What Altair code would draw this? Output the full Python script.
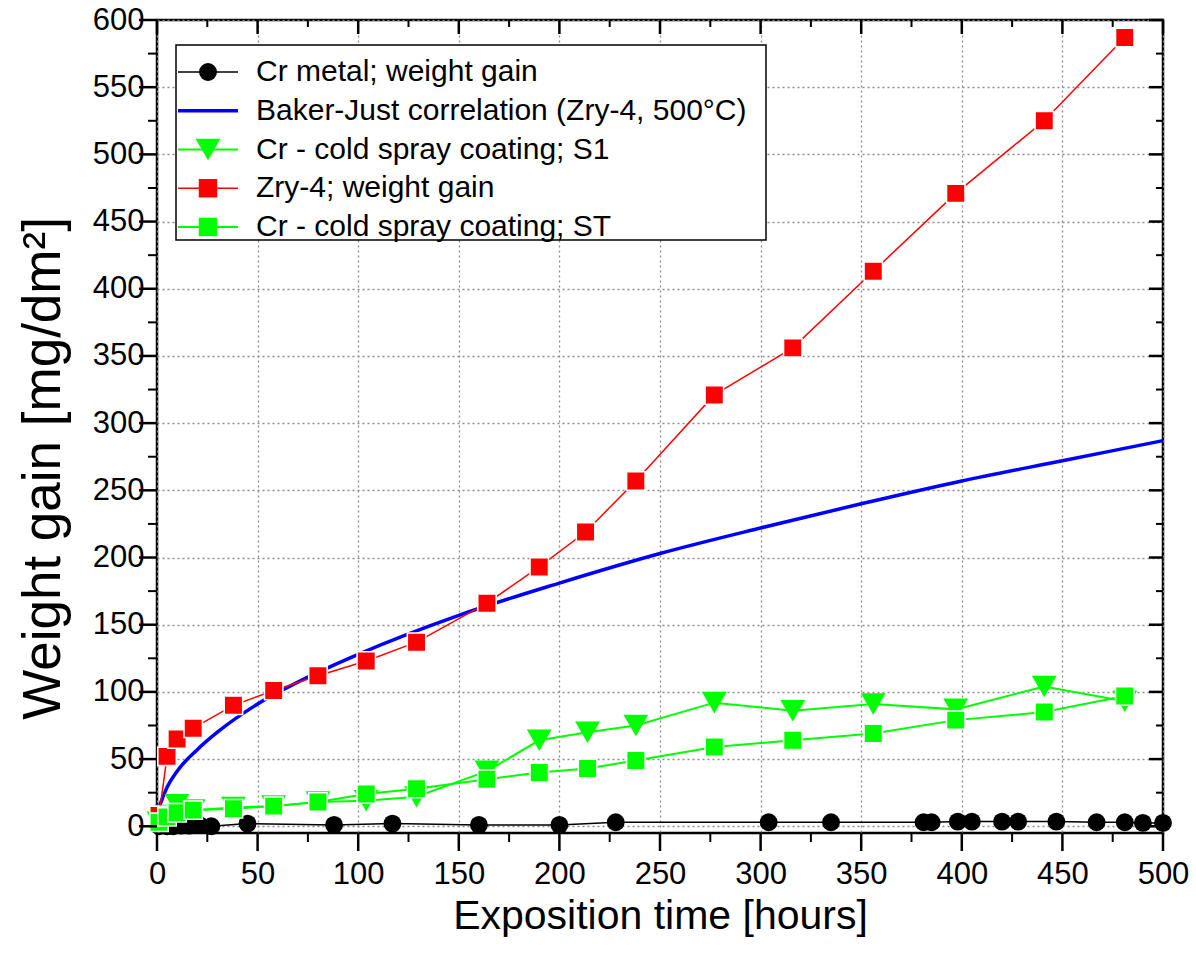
import altair as alt
import pandas as pd

# ---------------- data ----------------
cr_t = [1, 5, 8, 12, 16, 21, 27, 45, 88, 117, 160, 200, 228, 304, 335, 381, 385, 398, 405, 420, 428, 447, 467, 481, 490, 500]
cr_w = [0, 0, 0, 0.5, 0.5, 1, 0, 2, 1, 2, 1, 1, 3, 3, 3, 3, 3, 3.5, 3.5, 3.5, 3.5, 3.5, 3, 3, 2.5, 2.5]

bj_t = [0, 1, 2, 5, 10, 20, 30, 50, 75, 100, 150, 200, 250, 300, 350, 400, 450, 500]
bj_w = [0, 13, 18, 29, 41, 57, 70, 91, 111, 128, 157, 181, 203, 222, 240, 257, 272, 287]

s1_t = [1, 5, 10, 18, 38, 58, 80, 104, 129, 164, 190, 214, 238, 277, 316, 356, 397, 441, 481]
s1_w = [3, 8, 16, 12, 14, 15, 18, 19, 22, 41, 64, 70, 75, 92, 86, 91, 87, 104, 93]

zry_t = [1, 5, 10, 18, 38, 58, 80, 104, 129, 164, 190, 213, 238, 277, 316, 356, 397, 441, 481]
zry_w = [8, 52, 65, 73, 90, 101, 112, 123, 137, 166, 193, 219, 257, 321, 356, 413, 471, 525, 587]

st_t = [1, 5, 10, 18, 38, 58, 80, 104, 129, 164, 190, 214, 238, 277, 316, 356, 397, 441, 481]
st_w = [3, 7, 10, 12, 13, 15, 18, 24, 28, 35, 40, 43, 49, 59, 64, 69, 79, 85, 97]

legend_labels = [
    "Cr metal; weight gain",
    "Baker-Just correlation (Zry-4, 500°C)",
    "Cr - cold spray coating; S1",
    "Zry-4; weight gain",
    "Cr - cold spray coating; ST",
]
legend_colors = ["black", "#0000ff", "#00ff00", "#ff0000", "#00ff00"]
legend_shapes = ["circle", None, "triangle-down", "square", "square"]
legend_sizes = [320, 0, 620, 340, 340]
legend_widths = [1.5, 3.5, 2, 1.5, 2]

x_major = list(range(0, 501, 50))
x_minor = list(range(25, 500, 50))
y_major = list(range(0, 601, 50))
y_minor = list(range(25, 600, 50))

W, H = 1006, 813
FONT = "Liberation Sans"

xs = alt.Scale(domain=[0, 500], nice=False, zero=False)
ys = alt.Scale(domain=[-5, 600], nice=False, zero=False)

AX = alt.Axis(
    values=x_major, title="Exposition time [hours]", grid=True,
    gridDash=[2, 3], gridColor="#8c8c8c", gridWidth=1.3,
    ticks=False, domain=False, labelFont=FONT, labelFontSize=31,
    labelColor="black", labelPadding=26, titleFont=FONT,
    titleFontSize=41, titleFontWeight="normal", titleColor="black",
    titleBaseline="alphabetic", titleY=95, labelFlush=False,
)
AY = alt.Axis(
    values=y_major, title="Weight gain [mg/dm²]", grid=True,
    gridDash=[2, 3], gridColor="#8c8c8c", gridWidth=1.3,
    ticks=False, domain=False, labelFont=FONT, labelFontSize=31,
    labelColor="black", labelPadding=13, titleFont=FONT,
    titleFontSize=53, titleFontWeight="normal", titleColor="black",
    titleBaseline="alphabetic", titleX=-98, titleY=448, titleAngle=-90,
    labelFlush=False,
)
XE = alt.X("t:Q", scale=xs, axis=AX)
YE = alt.Y("w:Q", scale=ys, axis=AY)


def series(t, w, color, lw, shape=None, size=0, halo=False, interp="linear"):
    df = pd.DataFrame({"t": t, "w": w})
    base = alt.Chart(df).encode(x=XE, y=YE)
    layers = [base.mark_line(color=color, strokeWidth=lw, interpolate=interp)]
    if shape:
        kw = dict(shape=shape, size=size, filled=True, color=color, opacity=1)
        if halo:
            kw.update(stroke="white", strokeWidth=1.5)
        layers.append(base.mark_point(**kw))
    return layers


def tick_rules(vals, axis, length, width):
    field = "t" if axis == "x" else "w"
    c = alt.Chart(pd.DataFrame({field: vals})).mark_rule(color="black", strokeWidth=width)
    if axis == "x":
        return [
            c.encode(x=XE, y=alt.value(H), y2=alt.value(H + length)),
            c.encode(x=XE, y=alt.value(0), y2=alt.value(length * 0.78)),
        ]
    return [
        c.encode(y=YE, x=alt.value(0), x2=alt.value(-length)),
        c.encode(y=YE, x=alt.value(W), x2=alt.value(W - length * 0.78)),
    ]


ticks = (
    tick_rules(x_major, "x", 18, 2.5)
    + tick_rules(x_minor, "x", 9, 2)
    + tick_rules(y_major, "y", 18, 2.5)
    + tick_rules(y_minor, "y", 9, 2)
)

data_layers = (
    series(bj_t, bj_w, "#0000ff", 3.5, interp="monotone")
    + series(cr_t, cr_w, "black", 1.5, "circle", 320)
    + series(s1_t, s1_w, "#00ff00", 2, "triangle-down", 620)
    + series(zry_t, zry_w, "#ff0000", 1.5, "square", 340, halo=True)
    + series(st_t, st_w, "#00ff00", 2, "square", 340, halo=True)
    + ticks
)
data_chart = alt.layer(*data_layers)

# ---------------- legend ----------------
leg = pd.DataFrame({
    "row": list(range(5)),
    "label": legend_labels,
    "color": legend_colors,
    "shape": [s if s else "circle" for s in legend_shapes],
    "size": legend_sizes,
    "sw": legend_widths,
})
leg_markers = leg[leg["size"] > 0]
ry = alt.Y("row:O", scale=alt.Scale(type="point", domain=list(range(5)), range=[52, 207], padding=0), axis=None)

leg_box = alt.Chart(pd.DataFrame({"a": [0]})).mark_rect(
    fill="white", stroke="black", strokeWidth=1.5
).encode(x=alt.value(19), x2=alt.value(609), y=alt.value(25), y2=alt.value(220))

leg_lines = alt.Chart(leg).mark_rule().encode(
    x=alt.value(21), x2=alt.value(81), y=ry,
    color=alt.Color("color:N", scale=None),
    strokeWidth=alt.StrokeWidth("sw:Q", scale=None),
)
leg_pts = alt.Chart(leg_markers).mark_point(filled=True, opacity=1).encode(
    x=alt.value(51), y=ry,
    color=alt.Color("color:N", scale=None),
    shape=alt.Shape("shape:N", scale=None),
    size=alt.Size("size:Q", scale=None),
)
leg_text = alt.Chart(leg).mark_text(
    align="left", baseline="middle", font=FONT, fontSize=30, color="black"
).encode(x=alt.value(99), y=ry, text="label:N")

legend_chart = alt.layer(leg_box, leg_lines, leg_pts, leg_text)

chart = (
    alt.layer(data_chart, legend_chart)
    .resolve_scale(y="independent")
    .properties(
        width=W, height=H,
        autosize=alt.AutoSizeParams(type="none"),
        padding={"left": 157, "top": 20, "right": 33, "bottom": 129},
        background="white",
    )
    .configure_view(stroke="black", strokeWidth=2.5)
)

chart.save("out.html", embed_options={"renderer": "svg", "actions": False})
